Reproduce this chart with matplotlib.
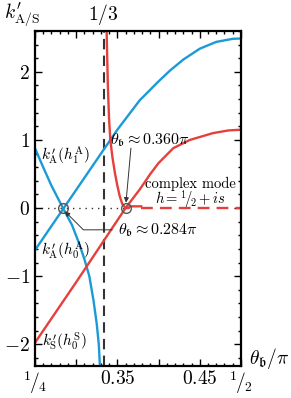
import numpy as np
import matplotlib.pyplot as plt
from matplotlib.ticker import MultipleLocator, FixedLocator

plt.rcParams['mathtext.fontset'] = 'cm'
plt.rcParams['font.family'] = 'serif'
plt.rcParams['font.serif'] = ['cmr10', 'DejaVu Serif']
plt.rcParams['axes.unicode_minus'] = True
plt.rcParams['axes.formatter.use_mathtext'] = True

# --- data (theta_b / pi, k') ---
# blue, rising: k'_A(h_0^A)
blue_up_x = [0.250, 0.285, 0.320, 0.350, 0.377, 0.400, 0.414, 0.430, 0.450, 0.470, 0.490, 0.500]
blue_up_k = [-0.62, 0.00, 0.62, 1.15, 1.58, 1.86, 2.02, 2.18, 2.34, 2.44, 2.485, 2.49]

# blue, falling: k'_A(h_1^A)
blue_dn_x = [0.250, 0.260, 0.270, 0.284, 0.295, 0.303, 0.310, 0.316, 0.321, 0.325, 0.3275, 0.329]
blue_dn_k = [0.88, 0.60, 0.33, 0.00, -0.25, -0.50, -0.75, -1.00, -1.35, -1.70, -2.00, -2.35]

# red, rising: k'_S(h_0^S)
red_up_x = [0.250, 0.300, 0.360, 0.377, 0.390, 0.400, 0.418, 0.438, 0.466, 0.485, 0.500]
red_up_k = [-1.98, -1.09, 0.00, 0.27, 0.50, 0.66, 0.88, 1.00, 1.10, 1.14, 1.15]

# red, steep branch coming down near theta_b = 1/3
red_st_x = [0.3366, 0.3370, 0.3385, 0.3400, 0.3415, 0.3440, 0.3470, 0.3500, 0.3530, 0.3560, 0.3600]
red_st_k = [2.80, 2.60, 1.80, 1.30, 1.00, 0.75, 0.52, 0.33, 0.17, 0.06, 0.00]
red_tail_x = [0.3600, 0.3640, 0.3650, 0.3790]
red_tail_k = [0.00, 0.00, 0.025, 0.025]

# complex mode (dashed)
cplx_x = [0.3790, 0.500]
cplx_k = [0.0, 0.0]

# crossing points
cross_x = [0.284, 0.360]
cross_k = [0.0, 0.0]

blue = '#1c9ad6'
red = '#e5403b'
grey = '#333333'

fig = plt.figure(figsize=(2.91, 3.98), dpi=100)
ax = fig.add_axes([0.120, 0.0804, 0.708, 0.8417])

ax.axvline(1/3, color=grey, lw=1.5, dashes=(5, 3), zorder=1)
ax.plot([0.25, cross_x[1]], [0, 0], color=grey, lw=1.0, ls=(0, (1, 3.5)), zorder=1)

ax.plot(blue_up_x, blue_up_k, color=blue, lw=1.7, zorder=2)
ax.plot(blue_dn_x, blue_dn_k, color=blue, lw=1.7, zorder=2)
ax.plot(red_up_x, red_up_k, color=red, lw=1.7, zorder=2)
ax.plot(red_st_x, red_st_k, color=red, lw=1.7, zorder=2)
ax.plot(red_tail_x, red_tail_k, color=red, lw=1.7, zorder=2)
ax.plot(cplx_x, cplx_k, color=red, lw=1.7, dashes=(5, 3), zorder=2)
ax.plot(cross_x, cross_k, 'o', ms=7, mfc='none', mec='#555555', mew=1.0, zorder=3)

ax.set_xlim(0.25, 0.5)
ax.set_ylim(-2.32, 2.6)

ax.xaxis.set_major_locator(FixedLocator([0.25, 0.30, 0.35, 0.40, 0.45, 0.50]))
ax.set_xticklabels([r'$^1\!/_4$', '', r'$0.35$', '', r'$0.45$', r'$^1\!/_2$'])
ax.xaxis.set_minor_locator(MultipleLocator(0.01))
ax.yaxis.set_major_locator(FixedLocator([-2, -1, 0, 1, 2]))
ax.set_yticklabels([r'$-2$', r'$-1$', r'$0$', r'$1$', r'$2$'])
ax.yaxis.set_minor_locator(MultipleLocator(0.2))
ax.tick_params(which='both', direction='in', top=True, right=True, labelsize=14, width=1.0)
ax.tick_params(which='major', length=5)
ax.tick_params(which='minor', length=2.5)
ax.tick_params(axis='x', pad=3)
for s in ax.spines.values():
    s.set_linewidth(1.6)

ax.text(1/3, 1.012, r'$1/3$', transform=ax.get_xaxis_transform(), ha='center', va='bottom', fontsize=14)
fig.text(0.015, 0.962, r"$k^{\prime}_{\mathrm{A/S}}$", ha='left', va='center', fontsize=14)
fig.text(0.855, 0.10, r'$\theta_{\mathfrak{b}}/\pi$', ha='left', va='center', fontsize=14)

ax.text(0.257, 0.77, r"$k^{\prime}_{\mathrm{A}}(h_1^{\mathrm{A}})$", fontsize=11, ha='left', va='center')
ax.text(0.257, -0.63, r"$k^{\prime}_{\mathrm{A}}(h_0^{\mathrm{A}})$", fontsize=11, ha='left', va='center')
ax.text(0.259, -1.97, r"$k^{\prime}_{\mathrm{S}}(h_0^{\mathrm{S}})$", fontsize=11, ha='left', va='center')

ax.text(0.4385, -0.03, 'complex mode\n' + r'$h = {}^1\!/\!_2 + is$', fontsize=10.5,
        ha='center', va='bottom', multialignment='center', linespacing=0.82)

ax.text(0.3405, 1.0, r'$\theta_{\mathfrak{b}} \approx 0.360\pi$', fontsize=11.5, ha='left', va='center')
ax.annotate('', xy=(0.3605, 0.08), xytext=(0.3665, 0.88),
            arrowprops=dict(arrowstyle='-|>', color=grey, lw=0.7, mutation_scale=7,
                            shrinkA=0, shrinkB=0))
ax.annotate(r'$\theta_{\mathfrak{b}} \approx 0.284\pi$', xy=(0.2865, -0.05), xytext=(0.3505, -0.32),
            fontsize=11.5, ha='left', va='center',
            arrowprops=dict(arrowstyle='-|>', color=grey, lw=0.7, mutation_scale=7,
                            shrinkA=2, shrinkB=0,
                            connectionstyle='angle,angleA=0,angleB=135,rad=0'))

fig.savefig('out.png', dpi=100)
